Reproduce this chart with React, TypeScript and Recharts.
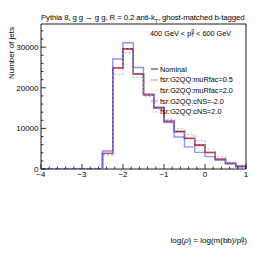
import React from "react";
import { ComposedChart, Line, XAxis, YAxis, ReferenceArea, Legend } from "recharts";

// bin edges of log(rho), 0.25 wide
const EDGES = [-4, -3.75, -3.5, -3.25, -3, -2.75, -2.5, -2.25, -2, -1.75, -1.5, -1.25, -1, -0.75, -0.5, -0.25, 0, 0.25, 0.5, 0.75, 1];

const NOMINAL = [0, 0, 0, 0, 0, 0, 3850, 24900, 29600, 23400, 18250, 15100, 11800, 9250, 7550, 5900, 4100, 2450, 1450, 700];
const MURFAC_05 = [0, 0, 0, 0, 0, 0, 3800, 24800, 29500, 23300, 18200, 15000, 11700, 9150, 7500, 5800, 4000, 2400, 1400, 650];
const MURFAC_20 = [0, 0, 0, 0, 0, 0, 3900, 25000, 29700, 23500, 18300, 15200, 11900, 9400, 7750, 6050, 4250, 2600, 1550, 800];
const CNS_M20 = [0, 0, 0, 0, 0, 0, 4450, 27100, 31100, 25000, 18500, 15200, 11450, 7900, 5450, 4100, 3050, 2150, 1200, 500];
const CNS_P20 = [0, 0, 0, 0, 0, 0, 3400, 23300, 28600, 22600, 17800, 14850, 12250, 9950, 8450, 6950, 4850, 3050, 1700, 950];

const X_MAJOR = [-4, -3, -2, -1, 0, 1];
const X_TICKS = [-4, -3.8, -3.6, -3.4, -3.2, -3, -2.8, -2.6, -2.4, -2.2, -2, -1.8, -1.6, -1.4, -1.2, -1, -0.8, -0.6, -0.4, -0.2, 0, 0.2, 0.4, 0.6, 0.8, 1];
const Y_MAJOR = [0, 10000, 20000, 30000];
const Y_TICKS = [0, 2000, 4000, 6000, 8000, 10000, 12000, 14000, 16000, 18000, 20000, 22000, 24000, 26000, 28000, 30000, 32000, 34000];

const SERIES = [
  { key: "nom", name: "Nominal", values: NOMINAL, color: "#000000", dash: undefined, opacity: 0.85 },
  { key: "r05", name: "fsr:G2QQ:muRfac=0.5", values: MURFAC_05, color: "#ee3b3b", dash: undefined, opacity: 0.65 },
  { key: "r20", name: "fsr:G2QQ:muRfac=2.0", values: MURFAC_20, color: "#f49a9a", dash: "2 2", opacity: 0.6 },
  { key: "cm", name: "fsr:G2QQ:cNS=-2.0", values: CNS_M20, color: "#4848ff", dash: undefined, opacity: 0.6 },
  { key: "cp", name: "fsr:G2QQ:cNS=2.0", values: CNS_P20, color: "#9a9aff", dash: "2 2", opacity: 0.6 }
];

const rows = EDGES.map((x, i) => {
  const row: Record<string, number> = { x };
  SERIES.forEach((s) => {
    row[s.key] = s.values[Math.min(i, s.values.length - 1)];
  });
  return row;
});

const FONT = "'Liberation Sans', Arial, sans-serif";

function XTick(props: any) {
  const { x, y, payload } = props;
  const major = X_MAJOR.includes(payload.value);
  const label = payload.value < 0 ? "\u2212" + Math.abs(payload.value) : String(payload.value);
  return (
    <g>
      <line x1={x} x2={x} y1={y} y2={y - (major ? 5 : 2.5)} stroke="#000" strokeWidth={0.8} />
      {major && (
        <text x={x} y={y + 7.5} textAnchor="middle" fontSize={8} fontFamily={FONT} fill="#000">
          {label}
        </text>
      )}
    </g>
  );
}

function YTick(props: any) {
  const { x, y, payload } = props;
  const major = Y_MAJOR.includes(payload.value);
  return (
    <g>
      <line x1={x} x2={x + (major ? 5 : 2.5)} y1={y} y2={y} stroke="#000" strokeWidth={0.8} />
      {major && (
        <text x={x - 2.5} y={y + 2.8} textAnchor="end" fontSize={8} fontFamily={FONT} fill="#000">
          {payload.value}
        </text>
      )}
    </g>
  );
}

function LegendBox() {
  return (
    <div style={{ fontFamily: FONT, fontSize: 7.3, color: "#000" }}>
      {SERIES.map((s) => (
        <div key={s.key} style={{ display: "flex", alignItems: "center", height: 10.6 }}>
          <svg width={8} height={4} style={{ marginRight: 1 }}>
            <line x1={0} x2={7} y1={2} y2={2} stroke={s.color} strokeWidth={1} strokeDasharray={s.dash} strokeOpacity={s.opacity} />
          </svg>
          <span>{s.name}</span>
        </div>
      ))}
    </div>
  );
}

function PT() {
  return (
    <span>
      p
      <span style={{ display: "inline-flex", flexDirection: "column", fontSize: "0.65em", lineHeight: 1, verticalAlign: "middle" }}>
        <span>g</span>
        <span>T</span>
      </span>
    </span>
  );
}

export default function App() {
  return (
    <div style={{ position: "fixed", left: 0, top: 0, width: 274, height: 261, background: "#fff", fontFamily: FONT }}>
      <ComposedChart width={274} height={261} data={rows} margin={{ top: 24, right: 28, left: 0, bottom: 0 }}>
        <XAxis
          dataKey="x"
          type="number"
          domain={[-4, 1]}
          ticks={X_TICKS}
          interval={0}
          height={39}
          tickSize={0}
          tickMargin={0}
          axisLine={false}
          tick={<XTick />}
          allowDataOverflow
        />
        <YAxis
          type="number"
          domain={[0, 35700]}
          ticks={Y_TICKS}
          interval={0}
          width={41}
          tickSize={0}
          tickMargin={0}
          axisLine={false}
          tick={<YTick />}
          allowDataOverflow
        />
        <ReferenceArea x1={-4} x2={1} y1={0} y2={35700} fill="none" stroke="#000" strokeWidth={0.9} ifOverflow="visible" />
        {SERIES.map((s) => (
          <Line
            key={s.key}
            dataKey={s.key}
            name={s.name}
            type="stepAfter"
            stroke={s.color}
            strokeOpacity={s.opacity}
            strokeWidth={1.4}
            strokeDasharray={s.dash}
            dot={false}
            activeDot={false}
            isAnimationActive={false}
          />
        ))}
        <Legend content={<LegendBox />} wrapperStyle={{ position: "absolute", left: 151, top: 64, width: 100 }} />
      </ComposedChart>
      <div style={{ position: "absolute", left: 41, top: 13, fontSize: 7.8, whiteSpace: "nowrap", letterSpacing: -0.1 }}>
        Pythia 8, g g → g g, R = 0.2 anti-k<sub style={{ fontSize: "0.7em" }}>T</sub>, ghost-matched b-tagged
      </div>
      <div style={{ position: "absolute", left: 150, top: 29, fontSize: 7.3, whiteSpace: "nowrap" }}>
        400 GeV &lt; <PT /> &lt; 600 GeV
      </div>
      <div
        style={{
          position: "absolute",
          left: 7,
          top: 27,
          fontSize: 8,
          whiteSpace: "nowrap",
          transform: "translate(-50%, 0) rotate(-90deg) translate(-50%, 0)",
          transformOrigin: "50% 0",
        }}
      >
        Number of jets
      </div>
      <div style={{ position: "absolute", right: 27, top: 236, fontSize: 8, whiteSpace: "nowrap" }}>
        log(<i>ρ</i>) = log(m(bb)/<PT />)
      </div>
    </div>
  );
}
